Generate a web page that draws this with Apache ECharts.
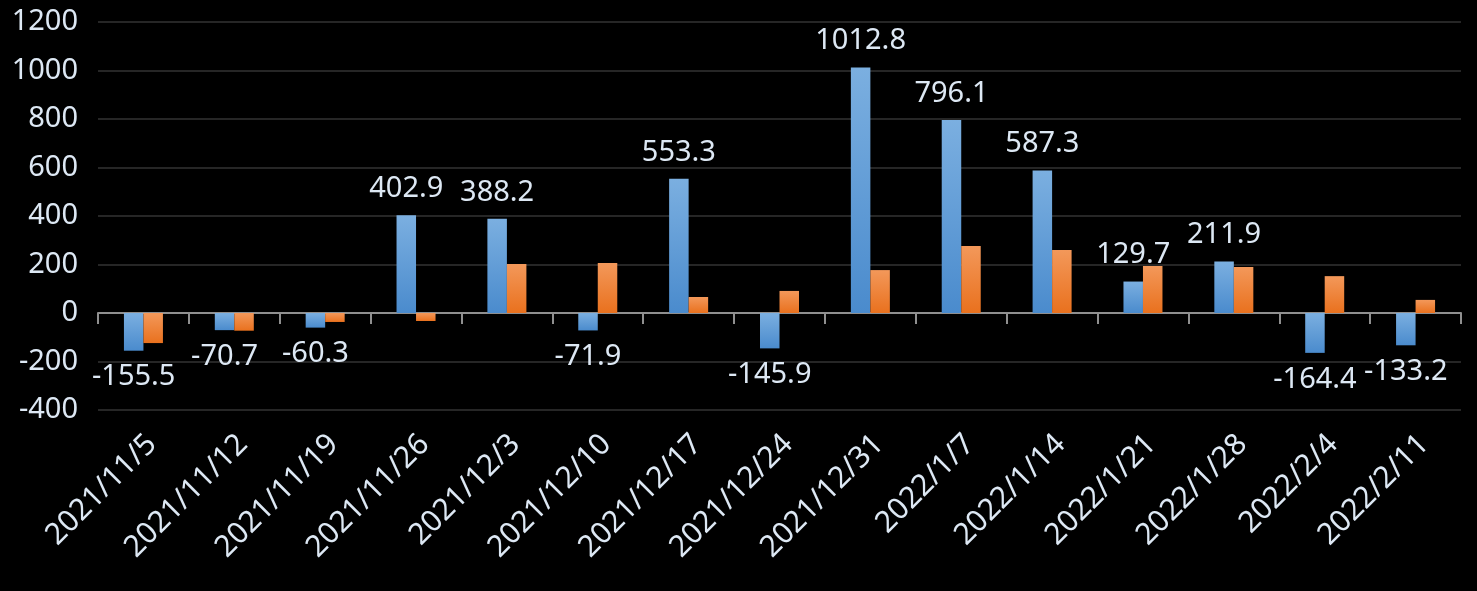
<!DOCTYPE html>
<html>
<head>
<meta charset="utf-8">
<script src="https://cdn.jsdelivr.net/npm/echarts@6/dist/echarts.min.js"></script>
<style>
html,body{margin:0;padding:0;background:#000;}
#chart{width:1477px;height:591px;}
</style>
</head>
<body>
<div id="chart"></div>
<script>
const categories = ['2021/11/5','2021/11/12','2021/11/19','2021/11/26','2021/12/3','2021/12/10','2021/12/17','2021/12/24','2021/12/31','2022/1/7','2022/1/14','2022/1/21','2022/1/28','2022/2/4','2022/2/11'];
const blueValues = [-155.5,-70.7,-60.3,402.9,388.2,-71.9,553.3,-145.9,1012.8,796.1,587.3,129.7,211.9,-164.4,-133.2];
const orangeValues = [-124,-73,-37,-33,202,206,66,91,177,276,260,194,190,152,54];
const yTicks = {min:-400, max:1200, interval:200};

const font = '"Noto Sans", "Segoe UI", sans-serif';
const textColor = '#dde8f4';

const chart = echarts.init(document.getElementById('chart'));
const grad = (c1, c2) => new echarts.graphic.LinearGradient(0,0,0,1,[{offset:0,color:c1},{offset:1,color:c2}]);

chart.setOption({
  backgroundColor:'#000',
  animation:false,
  grid:{left:98,right:16,top:22,bottom:181},
  xAxis:[{
    type:'category', data:categories, position:'bottom',
    axisLine:{show:false,onZero:false}, axisTick:{show:false},
    axisLabel:{rotate:45, margin:38, color:textColor, fontSize:30, fontFamily:font, interval:0, padding:[0,-12,0,0]}
  },{
    type:'category', data:categories, position:'bottom',
    axisLine:{show:true,onZero:true,lineStyle:{color:'#8f8f8f',width:2}},
    axisTick:{show:true,length:11,lineStyle:{color:'#8f8f8f',width:2}},
    axisLabel:{show:false}
  }],
  yAxis:{
    type:'value', min:yTicks.min, max:yTicks.max, interval:yTicks.interval,
    axisLine:{show:false}, axisTick:{show:false},
    axisLabel:{color:textColor, fontSize:29, fontFamily:font, margin:20, formatter:v=>String(v)},
    splitLine:{lineStyle:{color:'#262626',width:2}}
  },
  series:[{
    type:'bar', xAxisIndex:0, barWidth:19.5, barGap:'0%',
    itemStyle:{color:grad('#7bafe0','#4a8bcd')},
    data:blueValues.map(v=>({value:v,label:{position:v>=0?'top':'bottom'}})),
    label:{show:true, color:textColor, fontSize:29, fontFamily:font, distance:12}
  },{
    type:'bar', xAxisIndex:0, barWidth:19.5, barGap:'0%',
    itemStyle:{color:grad('#f3985a','#e9711e')},
    data:orangeValues
  }]
});
</script>
</body>
</html>
